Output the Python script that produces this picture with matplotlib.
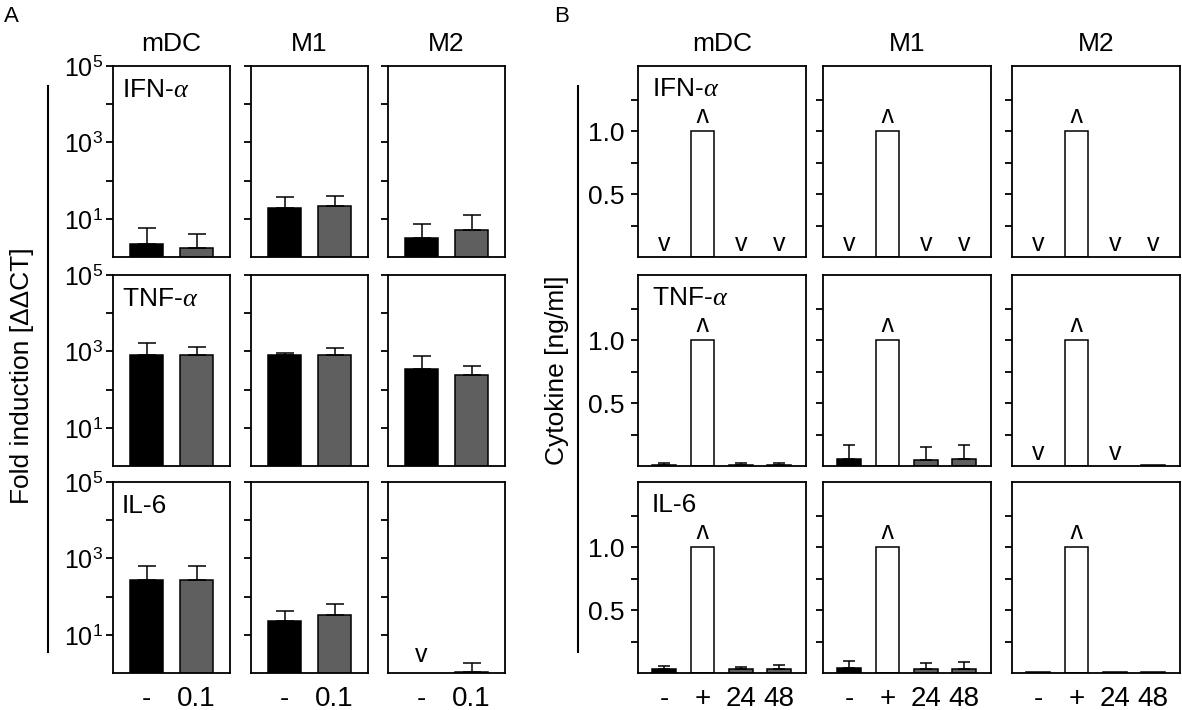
import numpy as np
import matplotlib
matplotlib.use("Agg")
import matplotlib.pyplot as plt
from matplotlib.lines import Line2D
from matplotlib.ticker import FixedLocator, FixedFormatter, NullLocator

plt.rcParams['font.family'] = ['Liberation Sans', 'DejaVu Sans']
plt.rcParams['mathtext.fontset'] = 'custom'
plt.rcParams['mathtext.rm'] = 'Liberation Sans'
plt.rcParams['mathtext.it'] = 'Liberation Serif:italic'

cells = ["mDC", "M1", "M2"]
genes = ["IFN-$\\alpha$", "TNF-$\\alpha$", "IL-6"]

# panel A: fold induction, "-" vs "0.1" (None = below detection)
a_labels = ["-", "0.1"]
fold_ctrl_ifn = [2.2, 19.5, 3.2]
fold_ctrl_ifn_hi = [5.8, 38, 7.4]
fold_trt_ifn = [1.7, 21, 5.1]
fold_trt_ifn_hi = [4.0, 40, 12.6]
fold_ctrl_tnf = [820, 800, 350]
fold_ctrl_tnf_hi = [1660, 930, 740]
fold_trt_tnf = [790, 820, 240]
fold_trt_tnf_hi = [1310, 1250, 420]
fold_ctrl_il6 = [280, 23, None]
fold_ctrl_il6_hi = [630, 42, None]
fold_trt_il6 = [280, 33, 1.08]
fold_trt_il6_hi = [630, 63, 1.8]

# panel B: cytokine ng/ml, "-", "+", "24", "48" (None = below, "+" is above range)
b_labels = ["-", "+", "24", "48"]
cyt_ifn = [[None, 1.0, None, None], [None, 1.0, None, None], [None, 1.0, None, None]]
cyt_ifn_hi = [[None, None, None, None], [None, None, None, None], [None, None, None, None]]
cyt_tnf = [[0.004, 1.0, 0.004, 0.008], [0.056, 1.0, 0.048, 0.056], [None, 1.0, None, 0.004]]
cyt_tnf_hi = [[0.024, None, 0.025, 0.02], [0.167, None, 0.148, 0.164], [None, None, None, None]]
cyt_il6 = [[0.03, 1.0, 0.03, 0.033], [0.036, 1.0, 0.033, 0.033], [0.01, 1.0, 0.005, 0.005]]
cyt_il6_hi = [[0.054, None, 0.05, 0.06], [0.093, None, 0.08, 0.085], [None, None, None, None]]

W, H = 1182, 710
fig = plt.figure(figsize=(W / 100, H / 100), dpi=100)


def px_axes(x, y, w, h):
    return fig.add_axes([x / W, 1 - (y + h) / H, w / W, h / H])


col_a = [113, 251, 388]
col_b = [638, 823, 1012]
rows = [66, 275, 482]
wa, wb, rh = 117, 168, 191
lw = 1.3

fold_ctrl = [fold_ctrl_ifn, fold_ctrl_tnf, fold_ctrl_il6]
fold_ctrl_hi = [fold_ctrl_ifn_hi, fold_ctrl_tnf_hi, fold_ctrl_il6_hi]
fold_trt = [fold_trt_ifn, fold_trt_tnf, fold_trt_il6]
fold_trt_hi = [fold_trt_ifn_hi, fold_trt_tnf_hi, fold_trt_il6_hi]

# ---- panel A
for r in range(3):
    for c in range(3):
        ax = px_axes(col_a[c], rows[r], wa, rh)
        ax.set_yscale('log')
        vals = [fold_ctrl[r][c], fold_trt[r][c]]
        his = [fold_ctrl_hi[r][c], fold_trt_hi[r][c]]
        colors = ['black', '#5f5f5f']
        for i in range(2):
            if vals[i] is None:
                ax.text(i, 2.9, "v", ha='center', va='center', fontsize=18)
                continue
            ax.bar(i, vals[i], 0.66, color=colors[i], edgecolor='black', lw=1.1)
            ax.errorbar(i, vals[i], yerr=[[0], [his[i] - vals[i]]], fmt='none',
                        ecolor='black', elinewidth=1.1, capsize=6.5, capthick=1.1)
        ax.set_xlim(-0.67, 1.67)
        ax.set_ylim(1, 1e5)
        ax.yaxis.set_major_locator(FixedLocator([10, 100, 1e3, 1e4, 1e5]))
        ax.yaxis.set_minor_locator(NullLocator())
        if c == 0:
            ax.yaxis.set_major_formatter(FixedFormatter(
                ["$10^{1}$", "", "$10^{3}$", "", "$10^{5}$"]))
        else:
            ax.set_yticklabels([])
        ax.tick_params(axis='y', direction='out', length=5, width=lw, labelsize=18, pad=2)
        ax.set_xticks([0, 1])
        if r == 2:
            ax.set_xticklabels(a_labels, fontsize=20)
        else:
            ax.set_xticklabels([])
        ax.tick_params(axis='x', length=0, pad=9)
        for s in ax.spines.values():
            s.set_linewidth(lw)
        if c == 0:
            ax.text(0.077, 0.875, genes[r], transform=ax.transAxes, fontsize=19, va='center')
        if r == 0:
            ax.set_title(cells[c], fontsize=19, pad=11)

cyt = [cyt_ifn, cyt_tnf, cyt_il6]
cyt_hi = [cyt_ifn_hi, cyt_tnf_hi, cyt_il6_hi]

# ---- panel B
for r in range(3):
    for c in range(3):
        ax = px_axes(col_b[c], rows[r], wb, rh)
        colors = ['black', 'white', '#5f5f5f', '#5f5f5f']
        for i in range(4):
            v = cyt[r][c][i]
            if v is None:
                ax.text(i, 0.105, "v", ha='center', va='center', fontsize=18)
                continue
            ax.bar(i, v, 0.62, color=colors[i], edgecolor='black', lw=1.1)
            hi = cyt_hi[r][c][i]
            if hi is not None:
                ax.errorbar(i, v, yerr=[[0], [hi - v]], fmt='none', ecolor='black',
                            elinewidth=1.1, capsize=4.3, capthick=1.1)
            if b_labels[i] == "+":
                ax.text(i, v + 0.135, "v", ha='center', va='center', fontsize=18, rotation=180)
        ax.set_xlim(-0.68, 3.7)
        ax.set_ylim(0, 1.52)
        ax.set_yticks([0.25, 0.5, 0.75, 1.0, 1.25])
        if c == 0:
            ax.set_yticklabels(["", "0.5", "", "1.0", ""])
        else:
            ax.set_yticklabels([])
        ax.tick_params(axis='y', direction='out', length=5, width=lw, labelsize=19, pad=5)
        ax.set_xticks(range(4))
        if r == 2:
            ax.set_xticklabels(b_labels, fontsize=20)
        else:
            ax.set_xticklabels([])
        ax.tick_params(axis='x', length=0, pad=9)
        for s in ax.spines.values():
            s.set_linewidth(lw)
        if c == 0:
            ax.text(0.083, 0.88, genes[r], transform=ax.transAxes, fontsize=19, va='center')
        if r == 0:
            ax.set_title(cells[c], fontsize=19, pad=11)

# side brackets and axis titles
for xl in [48, 578]:
    fig.add_artist(Line2D([xl / W, xl / W], [1 - 86 / H, 1 - 652 / H],
                          transform=fig.transFigure, color='black', lw=1.5))
fig.text(22 / W, 1 - 376 / H, "Fold induction [ΔΔCT]", rotation=90,
         ha='center', va='center', fontsize=19)
fig.text(557 / W, 1 - 370 / H, "Cytokine [ng/ml]", rotation=90,
         ha='center', va='center', fontsize=19)
fig.text(11 / W, 1 - 17 / H, "A", ha='center', va='center', fontsize=16)
fig.text(562 / W, 1 - 17 / H, "B", ha='center', va='center', fontsize=16)

fig.savefig("out.png", dpi=100)
